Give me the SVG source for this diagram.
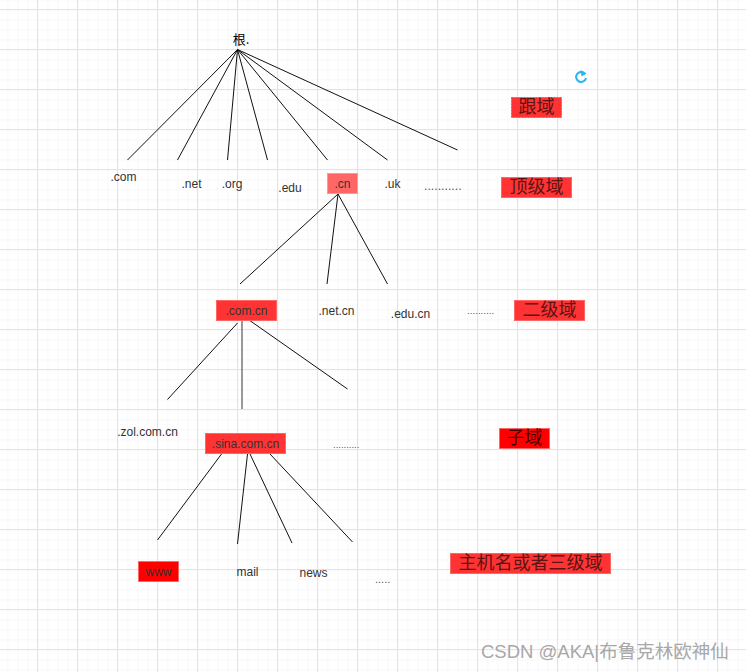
<svg xmlns="http://www.w3.org/2000/svg" width="746" height="672" viewBox="0 0 746 672">
<style>
.t{font-family:"Liberation Sans","Noto Sans CJK SC",sans-serif;font-size:12px;fill:#333;text-anchor:middle}
.c{font-family:"Noto Sans CJK SC",sans-serif;font-size:18px;fill:#5a1414;text-anchor:middle}
.l{stroke:#111;stroke-width:1;fill:none}
.r1{fill:#ff3333;stroke:#ff6666}
.r2{fill:#ff0000;stroke:#ff6666}
.d{font-family:"Liberation Sans",sans-serif;fill:#555}
</style>
<defs>
<pattern id="minor" width="10" height="10" patternUnits="userSpaceOnUse" x="-3" y="-1"><path d="M0.500 0V10M0 0.500H10" fill="none" stroke="#fafafa" stroke-width="2"/></pattern>
<pattern id="major" width="40" height="40" patternUnits="userSpaceOnUse" x="-3" y="9"><path d="M0.500 0V40M0 0.500H40" fill="none" stroke="#e3e3e3"/></pattern>
</defs>
<rect width="746" height="672" fill="#fff"/>
<rect width="746" height="672" fill="url(#minor)"/>
<rect width="746" height="672" fill="url(#major)"/>
<g id="connectors">
<path class="l" d="M237.500 49.500L127.500 160M237.500 49.500L177.500 160M237.500 49.500L227.500 160M237.500 49.500L267.500 160M237.500 49.500L327.500 160M237.500 49.500L387.500 160M237.500 49.500L457.500 150"/>
<path class="l" d="M338 194L240 284M338 194L327 284M338 194L387.500 284"/>
<path class="l" d="M237.500 323L167.500 399.500M249 320L347.500 389"/>
<path d="M242 318V409" stroke="#777" stroke-width="1.500" fill="none"/>
<path class="l" d="M221.500 454L157.500 540M247.500 454L237.500 544M250 454L292 543M270 454L352.500 542"/>
</g>
<g id="root"><text x="241" y="44" font-family="Noto Sans CJK SC,sans-serif" font-size="13" fill="#000" text-anchor="middle">根.</text></g>
<g id="com"><text class="t" x="123.500" y="181">.com</text></g>
<g id="net"><text class="t" x="191.500" y="188">.net</text></g>
<g id="org"><text class="t" x="232" y="188">.org</text></g>
<g id="edu"><text class="t" x="290" y="192">.edu</text></g>
<g id="cn"><rect class="r1" x="327.500" y="173.500" width="30" height="20" style="fill:#ff6666;stroke:#ff9999"/><text class="t" x="342.500" y="188">.cn</text></g>
<g id="uk"><text class="t" x="392.500" y="188">.uk</text></g>
<g id="dots1"><text class="d" x="424" y="190" style="font-size:12.300px">...........</text></g>
<g id="comcn"><rect class="r1" x="216.500" y="300.500" width="60" height="20"/><text class="t" x="246.500" y="315">.com.cn</text></g>
<g id="netcn"><text class="t" x="336.500" y="315">.net.cn</text></g>
<g id="educn"><text class="t" x="410.500" y="318">.edu.cn</text></g>
<g id="dots2"><text class="d" x="467" y="314" style="font-size:9.800px">..........</text></g>
<g id="zolcomcn"><text class="t" x="147.500" y="436">.zol.com.cn</text></g>
<g id="sinacomcn"><rect class="r1" x="205.500" y="433.500" width="80" height="20"/><text class="t" x="245.500" y="448">.sina.com.cn</text></g>
<g id="dots3"><text class="d" x="333" y="448" style="font-size:9.500px">..........</text></g>
<g id="www"><rect class="r2" x="138.500" y="561.500" width="40" height="20"/><text class="t" x="158.500" y="576">www</text></g>
<g id="mail"><text class="t" x="247.500" y="576">mail</text></g>
<g id="news"><text class="t" x="313.500" y="577">news</text></g>
<g id="dots4"><text class="d" x="375" y="583" style="font-size:11px">.....</text></g>
<g id="label-gen"><rect class="r1" x="511.500" y="97.500" width="50" height="20" style="stroke:#2a9fd6;stroke-dasharray:2 1"/><text class="c" x="536.500" y="113">跟域</text></g>
<g id="label-top"><rect class="r1" x="501.500" y="177.500" width="70" height="20"/><text class="c" x="536.500" y="193">顶级域</text></g>
<g id="label-second"><rect class="r1" x="514.500" y="300.500" width="70" height="20"/><text class="c" x="549.500" y="316">二级域</text></g>
<g id="label-sub"><rect class="r2" x="499.500" y="428.500" width="50" height="20"/><text class="c" x="524.500" y="444" style="fill:#400">子域</text></g>
<g id="label-host"><rect class="r1" x="450.500" y="553.500" width="160" height="20"/><text class="c" x="530.500" y="569">主机名或者三级域</text></g>
<g id="refresh"><path d="M585 73.800A5 5 0 1 0 586 78" fill="none" stroke="#29b6f2" stroke-width="2"/><path d="M580.500 70L586.500 73.500L581.500 76.500Z" fill="#29b6f2"/></g>
<text x="481" y="658" font-family="Liberation Sans,Noto Sans CJK SC,sans-serif" font-size="18.500" fill="#a8a8a8">CSDN @AKA|布鲁克林欧神仙</text>
</svg>
